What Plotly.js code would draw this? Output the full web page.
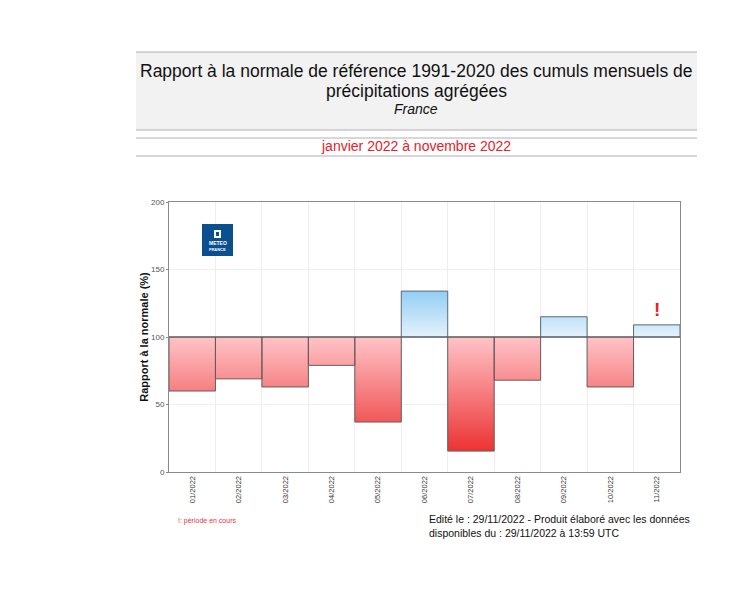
<!DOCTYPE html>
<html><head><meta charset="utf-8">
<script src="https://cdn.plot.ly/plotly-3.0.1.min.js"></script>
<style>html,body{margin:0;padding:0;background:#fff}#chart{width:747px;height:603px}</style>
</head><body><div id="chart"></div>
<script>
const months = ['01/2022','02/2022','03/2022','04/2022','05/2022','06/2022','07/2022','08/2022','09/2022','10/2022','11/2022'];
const ratios = [60, 69, 63, 79, 37, 134, 15.5, 68, 115, 63, 109];
const normalRef = 100;
const yTicks = [0, 50, 100, 150, 200];

const L = 169, R = 680, T = 202, B = 472, W = 747, H = 603;
const px = x => (x - L) / (R - L);
const py = y => (B - y) / (B - T);

function rects(filterFn) {
  const xs = [], ys = [];
  ratios.forEach((v, i) => {
    if (!filterFn(v)) return;
    xs.push(i - 0.5, i - 0.5, i + 0.5, i + 0.5, i - 0.5, null);
    ys.push(normalRef, v, v, normalRef, normalRef, null);
  });
  return {xs, ys};
}
const lo = rects(v => v < normalRef), hi = rects(v => v >= normalRef);

const traces = [
  {type:'scatter', mode:'lines', x: lo.xs, y: lo.ys, fill:'toself', connectgaps:false,
   line:{color:'#6a5a5a', width:1}, hoverinfo:'skip',
   fillgradient:{type:'vertical', start:0, stop:100, colorscale:[[0,'#e81818'],[1,'#ffc4c8']]}},
  {type:'scatter', mode:'lines', x: hi.xs, y: hi.ys, fill:'toself', connectgaps:false,
   line:{color:'#5a6a78', width:1}, hoverinfo:'skip',
   fillgradient:{type:'vertical', start:100, stop:140, colorscale:[[0,'#e4f2fc'],[1,'#84c8f2']]}}
];

const shapes = [
  {type:'rect', xref:'paper', yref:'paper', x0:px(136), x1:px(697), y0:py(130), y1:py(52), fillcolor:'#f2f2f2', line:{width:0}, layer:'below'},
  {type:'line', xref:'paper', yref:'paper', x0:px(136), x1:px(697), y0:py(52), y1:py(52), line:{color:'#b0b0b0', width:1}},
  {type:'line', xref:'paper', yref:'paper', x0:px(136), x1:px(697), y0:py(130), y1:py(130), line:{color:'#b0b0b0', width:1}},
  {type:'line', xref:'paper', yref:'paper', x0:px(136), x1:px(697), y0:py(138), y1:py(138), line:{color:'#b0b0b0', width:1}},
  {type:'line', xref:'paper', yref:'paper', x0:px(136), x1:px(697), y0:py(156), y1:py(156), line:{color:'#b0b0b0', width:1}},
  {type:'line', xref:'paper', yref:'y', x0:0, x1:1, y0:normalRef, y1:normalRef, line:{color:'#555555', width:1}},
  {type:'rect', xref:'paper', yref:'paper', x0:px(202), x1:px(233), y0:py(256), y1:py(224), fillcolor:'#0b4f8f', line:{width:0}},
  {type:'rect', xref:'paper', yref:'paper', x0:px(214), x1:px(221), y0:py(238), y1:py(230), fillcolor:'#ffffff', line:{width:0}},
  {type:'rect', xref:'paper', yref:'paper', x0:px(216), x1:px(219), y0:py(236), y1:py(232), fillcolor:'#0b4f8f', line:{width:0}}
];

const F = 'Liberation Sans, Arial';
function note(x, y, text, size, color, extra) {
  return Object.assign({xref:'paper', yref:'paper', x:px(x), y:py(y), text, showarrow:false,
    xanchor:'center', yanchor:'middle', borderpad:0, font:{family:F, size, color}}, extra || {});
}
const annotations = [
  note(416, 71, 'Rapport à la normale de référence 1991-2020 des cumuls mensuels de', 17.5, '#111'),
  note(416, 90.5, 'précipitations agrégées', 17.5, '#111'),
  note(416, 109, '<i>France</i>', 14, '#111'),
  note(416, 146, 'janvier 2022 à novembre 2022', 14, '#e8202a'),
  {xref:'x', yref:'y', x:10, y:ratios[10], yshift:15, xanchor:'center', yanchor:'middle', text:'<b>!</b>', showarrow:false, font:{family:F, size:19, color:'#e8202a'}},
  note(217.5, 243, '<b>METEO</b>', 5, '#ffffff'),
  note(217.5, 249, '<b>FRANCE</b>', 4, '#ffffff'),
  note(177, 521, '!: période en cours', 7, '#f03040', {xanchor:'left'}),
  note(428, 526, 'Edité le : 29/11/2022 - Produit élaboré avec les données<br>disponibles du : 29/11/2022 à 13:59 UTC', 10.5, '#111', {xanchor:'left', align:'left'})
];

const layout = {
  width: W, height: H,
  margin: {l: L, r: W - R, t: T, b: H - B, pad: 0},
  paper_bgcolor: '#ffffff', plot_bgcolor: '#ffffff',
  showlegend: false,
  xaxis: {range:[-0.5, 10.5], tickmode:'array', tickvals: months.map((m,i)=>i), ticktext: months,
    tickangle:-90, tickfont:{family:F, size:7.5, color:'#333'},
    showgrid:false, zeroline:false, showline:true, mirror:true, linecolor:'#8a8a8a', linewidth:1,
    ticks:'', minor:{tick0:0.5, dtick:1, showgrid:true, gridcolor:'#ececf2', gridwidth:1, ticks:''}},
  yaxis: {range:[0, 200], tickmode:'array', tickvals:yTicks, ticks:'outside', ticklen:2, tickcolor:'#888',
    tickfont:{family:F, size:8, color:'#555'},
    showgrid:true, gridcolor:'#f0f0f0', zeroline:false, showline:true, mirror:true, linecolor:'#8a8a8a', linewidth:1,
    title:{text:'<b>Rapport à la normale (%)</b>', standoff:0, font:{family:F, size:11, color:'#111'}}},
  shapes, annotations
};

Plotly.newPlot('chart', traces, layout, {displayModeBar:false, staticPlot:true});
</script></body></html>
